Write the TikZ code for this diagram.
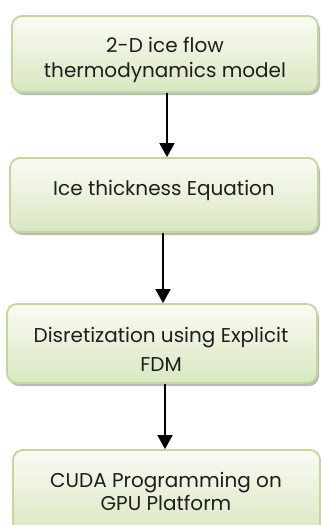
\documentclass[tikz,border=0pt]{standalone}
\usepackage{fontspec}
\setmainfont{Poppins}
\usetikzlibrary{arrows.meta,shadows}
\definecolor{boxtop}{HTML}{F9FBF4}
\definecolor{boxbot}{HTML}{D9E7C0}
\definecolor{boxline}{HTML}{C3D69B}
\definecolor{txt}{HTML}{1E1E1E}
\tikzset{
  flowbox/.style={draw=boxline, line width=1.8pt, rounded corners=10pt,
    top color=boxtop, bottom color=boxbot, inner sep=0pt,
    drop shadow={shadow xshift=2pt, shadow yshift=-3pt, fill=black!45, opacity=0.6}},
  flowtext/.style={align=center, text=txt, inner sep=0pt},
  flowarrow/.style={line width=1.8pt, -{Triangle[width=15pt,length=14pt]}}
}
\begin{document}
\begin{tikzpicture}[x=1pt,y=-1pt]
\useasboundingbox (0,0) rectangle (321,525);
\node[flowbox, minimum width=306pt, minimum height=76pt] (b1) at (165,54) {};
\node[flowbox, minimum width=308pt, minimum height=74pt] (b2) at (164,195) {};
\node[flowbox, minimum width=310pt, minimum height=79pt] (b3) at (162,343.5) {};
\node[flowbox, minimum width=307pt, minimum height=85pt] (b4) at (166.5,492.5) {};
\node[flowtext, font=\fontsize{20}{25}\selectfont] (t1) at (165,60) {2-D ice flow\\thermodynamics model};
\node[flowtext, font=\fontsize{20}{23}\selectfont] (t2) at (164,190) {Ice thickness Equation};
\node[flowtext, font=\fontsize{20}{29}\selectfont] (t3) at (161,349.5) {Disretization using Explicit\\FDM};
\node[flowtext, font=\fontsize{20}{23}\selectfont] (t4) at (166,491) {CUDA Programming on\\GPU Platform};
\draw[flowarrow] (b1.south -| 167,0) -- (b2.north -| 167,0);
\draw[flowarrow] (b2.south -| 163,0) -- (b3.north -| 163,0);
\draw[flowarrow] (b3.south -| 165,0) -- (b4.north -| 165,0);
\end{tikzpicture}
\end{document}
